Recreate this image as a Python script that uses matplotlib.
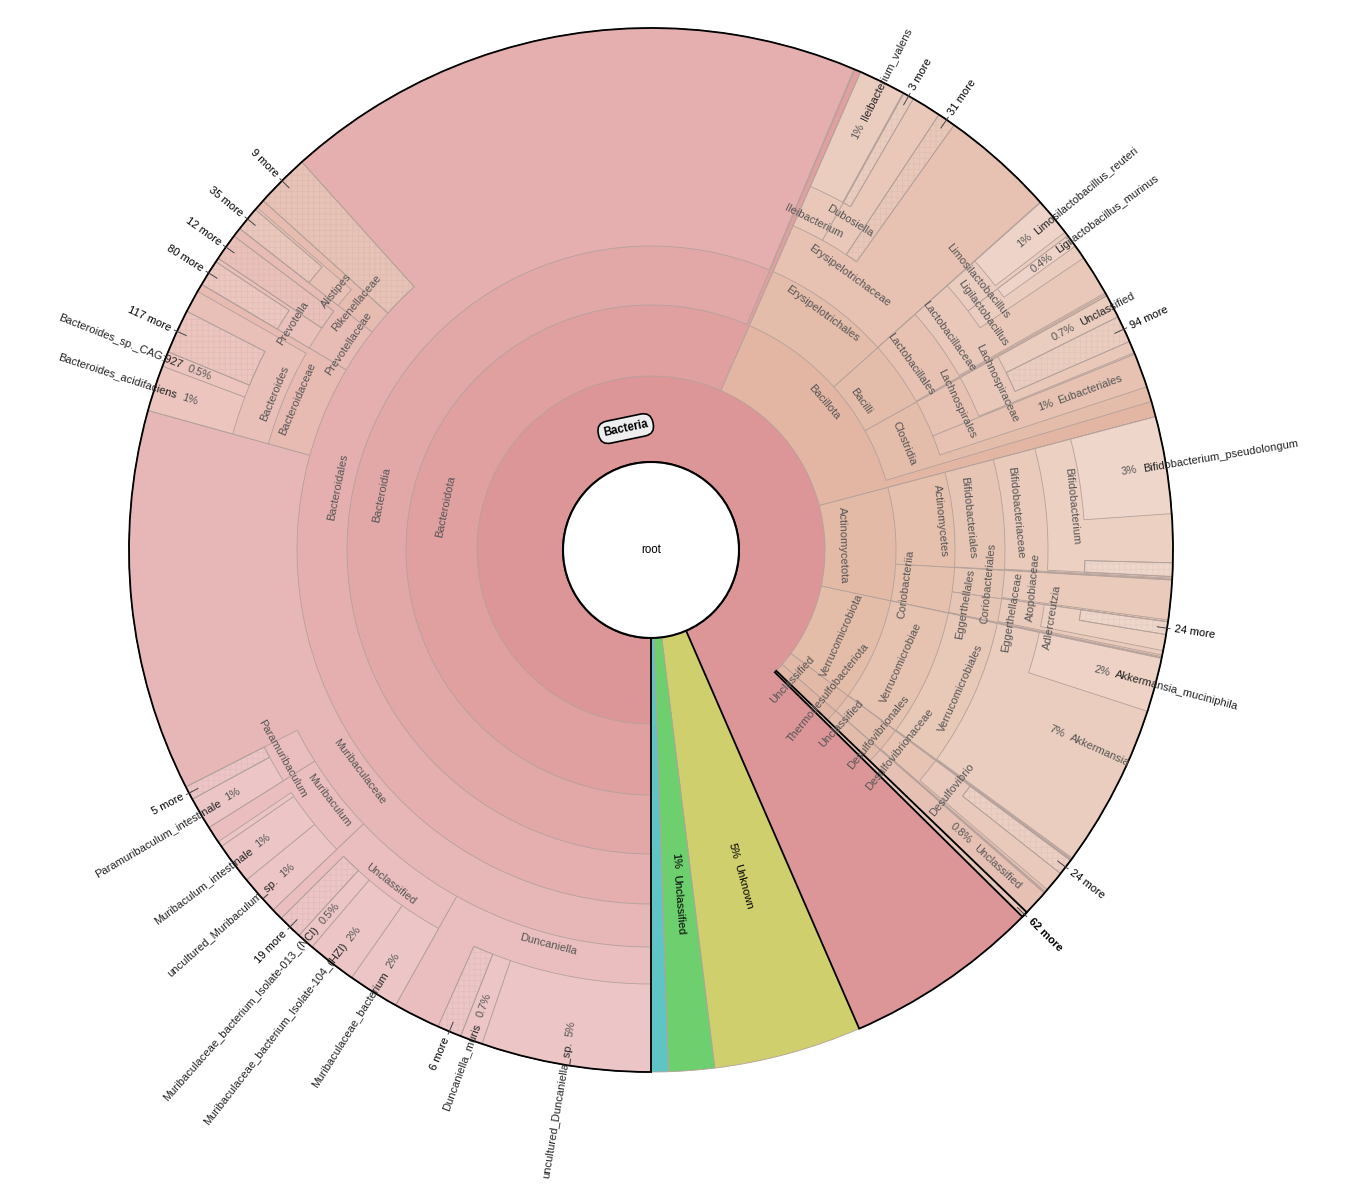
import matplotlib
matplotlib.use('Agg')
import matplotlib.pyplot as plt
from matplotlib.patches import Wedge, Circle
import numpy as np

plt.rcParams['font.family'] = ['Liberation Sans', 'DejaVu Sans']
plt.rcParams['hatch.linewidth'] = 0.5

# Krona-style taxonomy; values are % of all reads, laid out clockwise from 6 o'clock
ids = ['bac', 'unk', 'unc', 'cyn',
       'bdota', 'bill', 'acto', 'verr', 'thermo', 'uncp', 'more62',
       'bdia', 'erys', 'bacilli', 'clos', 'actm', 'corb', 'verrc', 'desv', 'uncc',
       'bdales', 'erysf', 'lacto', 'lachno', 'eubac', 'bifo', 'corbo', 'egg', 'verro', 'desvf', 'unco',
       'muri', 'bfam', 'prevf', 'rike', 'more9', 'ileib', 'dubo', 'more31', 'lactf', 'lachf',
       'biff', 'atop', 'eggf', 'akk', 'desvg',
       'dunc', 'uncg', 'murib', 'param', 'bcdes', 'prev', 'more12', 'alis', 'ivalens', 'more3',
       'limo', 'ligi', 'lachu', 'more94', 'bifg', 'adler', 'amuc', 'more24d',
       'udunc', 'dmuris', 'more6', 'mbact', 'm104', 'm013', 'more19', 'umuri', 'mint', 'msliver',
       'pint', 'more5', 'bacid', 'bcag', 'more117', 'more80', 'more35', 'lreut', 'lmur',
       'bpseudo', 'bgap', 'bmore', 'more24a']

parents = ['root', 'root', 'root', 'root',
           'bac', 'bac', 'bac', 'bac', 'bac', 'bac', 'bac',
           'bdota', 'bill', 'bill', 'bill', 'acto', 'acto', 'verr', 'thermo', 'uncp',
           'bdia', 'erys', 'bacilli', 'clos', 'clos', 'actm', 'corb', 'corb', 'verrc', 'desv', 'uncc',
           'bdales', 'bdales', 'bdales', 'bdales', 'bdales', 'erysf', 'erysf', 'erysf', 'lacto', 'lachno',
           'bifo', 'corbo', 'egg', 'verro', 'desvf',
           'muri', 'muri', 'muri', 'muri', 'bfam', 'prevf', 'prevf', 'rike', 'ileib', 'dubo',
           'lactf', 'lactf', 'lachf', 'lachf', 'biff', 'eggf', 'akk', 'desvg',
           'dunc', 'dunc', 'dunc', 'uncg', 'uncg', 'uncg', 'uncg', 'murib', 'murib', 'murib',
           'param', 'param', 'bcdes', 'bcdes', 'bcdes', 'prev', 'alis', 'limo', 'ligi',
           'bifg', 'bifg', 'bifg', 'adler']

names = ['Bacteria', 'Unknown', 'Unclassified', '',
         'Bacteroidota', 'Bacillota', 'Actinomycetota', 'Verrucomicrobiota',
         'Thermodesulfobacteriota', 'Unclassified', '62 more',
         'Bacteroidia', 'Erysipelotrichales', 'Bacilli', 'Clostridia', 'Actinomycetes',
         'Coriobacteriia', 'Verrucomicrobiae', 'Desulfovibrionales', 'Unclassified',
         'Bacteroidales', 'Erysipelotrichaceae', 'Lactobacillales', 'Lachnospirales', 'Eubacteriales',
         'Bifidobacteriales', 'Coriobacteriales', 'Eggerthellales', 'Verrucomicrobiales',
         'Desulfovibrionaceae', 'Unclassified',
         'Muribaculaceae', 'Bacteroidaceae', 'Prevotellaceae', 'Rikenellaceae', '9 more',
         'Ileibacterium', 'Dubosiella', '31 more', 'Lactobacillaceae', 'Lachnospiraceae',
         'Bifidobacteriaceae', 'Atopobiaceae', 'Eggerthellaceae', 'Akkermansia', 'Desulfovibrio',
         'Duncaniella', 'Unclassified', 'Muribaculum', 'Paramuribaculum', 'Bacteroides',
         'Prevotella', '12 more', 'Alistipes', 'Ileibacterium_valens', '3 more',
         'Limosilactobacillus', 'Ligilactobacillus', 'Unclassified', '94 more', 'Bifidobacterium',
         'Adlercreutzia', 'Akkermansia_muciniphila', '24 more',
         'uncultured_Duncaniella_sp.', 'Duncaniella_muris', '6 more', 'Muribaculaceae_bacterium',
         'Muribaculaceae_bacterium_Isolate-104_(HZI)', 'Muribaculaceae_bacterium_Isolate-013_(NCI)',
         '19 more', 'uncultured_Muribaculum_sp.', 'Muribaculum_intestinale', '',
         'Paramuribaculum_intestinale', '5 more', 'Bacteroides_acidifaciens', 'Bacteroides_sp._CAG:927',
         '117 more', '80 more', '35 more', 'Limosilactobacillus_reuteri', 'Ligilactobacillus_murinus',
         'Bifidobacterium_pseudolongum', '', '', '24 more']

values = [93.47, 4.58, 1.42, 0.53,
          56.58, 14.31, 7.44, 6.81, 1.28, 0.79, 0.19,
          56.39, 6.83, 3.50, 3.50, 5.03, 2.39, 6.78, 1.25, 0.78,
          56.36, 6.81, 3.44, 1.97, 1.06, 5.00, 1.28, 1.08, 6.75, 1.22, 0.77,
          29.31, 4.19, 2.06, 1.11, 1.67, 1.47, 1.25, 0.56, 3.39, 1.92,
          4.97, 1.22, 1.03, 6.72, 1.14,
          8.14, 4.75, 3.19, 1.42, 3.94, 0.94, 0.83, 0.83, 1.44, 0.33,
          1.31, 0.83, 0.72, 0.83, 4.92, 0.89, 1.67, 0.50,
          5.25, 0.69, 0.75, 1.58, 1.53, 0.53, 0.75, 1.22, 1.28, 0.17,
          1.00, 0.42, 1.42, 0.47, 1.36, 0.81, 0.75, 1.17, 0.39,
          3.00, 1.50, 0.42, 0.39]

collapsed = ['more62', 'more9', 'more31', 'more12', 'more3', 'more94', 'more24d', 'more6',
             'more19', 'more5', 'more117', 'more80', 'more35', 'bmore', 'more24a']
hidden = ['bgap']
leaf_labels = ['unk', 'unc', 'ivalens', 'lreut', 'lmur', 'lachu', 'eubac', 'bpseudo', 'amuc',
               'akk', 'unco', 'bacid', 'bcag', 'pint', 'mint', 'umuri', 'm013', 'm104', 'mbact',
               'dmuris', 'udunc']

# geometry (pixels)
W, H = 1355, 1191
CX, CY = 651, H - 550
RINGS = {1: 88, 2: 174, 3: 245, 4: 304, 5: 354, 6: 397, 7: 434}
R = 522
# Krona staggers neighbouring ring labels radially: (pattern, step in px) per depth
STAGGER = {2: ([0, 1, -1], 18), 3: ([0, 1, -1], 17), 4: ([-1, 1], 10), 5: ([-1, 1], 9), 6: ([-1, 1], 8)}

root_colors = {'bac': '#dc9698', 'unk': '#d0cf6e', 'unc': '#6dcf6d', 'cyn': '#5ec4c4'}
base_colors = {'bdota': (224, 160, 160), 'bill': (226, 182, 163), 'acto': (227, 186, 166),
               'verr': (228, 189, 169), 'thermo': (226, 184, 166), 'uncp': (225, 181, 164),
               'more62': (232, 200, 186),
               'bfam': (231, 186, 178), 'prevf': (231, 188, 180), 'rike': (230, 188, 176),
               'more9': (231, 194, 182)}

idx = {n: i for i, n in enumerate(ids)}
parent_of = dict(zip(ids, parents))
kids = {n: [] for n in ids}
kids['root'] = []
for n, p in zip(ids, parents):
    kids[p].append(n)

theta0, span, depth = {}, {}, {}


def place(p, a, d):
    for c in kids[p]:
        theta0[c] = a
        span[c] = values[idx[c]] * 3.6
        depth[c] = d
        place(c, a, d + 1)
        a += span[c]


place('root', 180.0, 1)


def node_color(n):
    if n in root_colors:
        return root_colors[n]
    a = n
    while a not in base_colors:
        a = parent_of[a]
    base = np.array(base_colors[a]) / 255.0
    f = min(0.08 * (depth[n] - depth[a]), 0.6)
    return tuple(base + (1 - base) * f)


def pol(r, th):
    t = np.radians(th)
    return CX + r * np.sin(t), CY + r * np.cos(t)


def pct_text(v):
    if v >= 1:
        return '%d%%' % int(v + 0.5)
    return '%.1g%%' % v


fig = plt.figure(figsize=(W / 100, H / 100), dpi=100)
ax = fig.add_axes([0, 0, 1, 1])
ax.set_xlim(0, W)
ax.set_ylim(0, H)
ax.set_aspect('equal')
ax.axis('off')

EDGE = '#b3a19b'


def draw(p):
    for c in kids[p]:
        if c not in hidden:
            t0, sp = theta0[c], span[c]
            r_in = RINGS[depth[c]]
            col = node_color(c)
            ax.add_patch(Wedge((CX, CY), R, 90 - (t0 + sp), 90 - t0, width=R - r_in,
                               facecolor=col, edgecolor=EDGE, linewidth=0.6))
            if c in collapsed:
                hc = tuple(np.array(matplotlib.colors.to_rgb(col)) * 0.955)
                ax.add_patch(Wedge((CX, CY), R, 90 - (t0 + sp), 90 - t0, width=R - r_in,
                                   facecolor='none', edgecolor=hc, linewidth=0, hatch='+++'))
                ax.add_patch(Wedge((CX, CY), R, 90 - (t0 + sp), 90 - t0, width=R - r_in,
                                   facecolor='none', edgecolor=EDGE, linewidth=0.6))
        draw(c)


draw('root')

# black outlines of the Bacteria wedge and the collapsed phyla
for n in ['bac', 'more62']:
    t0, sp = theta0[n], span[n]
    r_in = RINGS[depth[n]]
    ax.add_patch(Wedge((CX, CY), R, 90 - (t0 + sp), 90 - t0, width=R - r_in,
                       facecolor='none', edgecolor='black', linewidth=1.3, zorder=5))

ax.add_patch(Circle((CX, CY), RINGS[1], facecolor='white', edgecolor='black', linewidth=1.5, zorder=6))
ax.text(CX, CY, 'root', ha='center', va='center', fontsize=8.3, color='black', zorder=7)

FS = 8.0


def radial_rot(th):
    th = th % 360
    if th < 180:
        return 90 - th, 'left'
    return 270 - th, 'right'


# radial stagger for ring (tangential) labels, counted along each ring
ring_nodes = [n for n in ids if names[idx[n]] and depth[n] >= 2 and n not in collapsed
              and n not in leaf_labels and n not in hidden]
shift = {}
for d, (pattern, step) in STAGGER.items():
    row = sorted([n for n in ring_nodes if depth[n] == d], key=lambda n: theta0[n])
    for k, n in enumerate(row):
        shift[n] = pattern[k % len(pattern)] * step

for n in ids:
    if n in hidden or not names[idx[n]]:
        continue
    mid = theta0[n] + span[n] / 2
    d = depth[n]
    r_in = RINGS[d]
    label = names[idx[n]]
    if n == 'bac':
        x, y = pol(124, mid)
        ax.text(x, y, label, ha='center', va='center', rotation=-mid % 360 - 360,
                fontsize=8.3, fontweight='bold', zorder=7,
                bbox=dict(boxstyle='round,pad=0.45,rounding_size=0.9', fc='#eeeeee', ec='black', lw=1.2))
    elif n in collapsed:
        rot, ha = radial_rot(mid)
        x1, y1 = pol(R - 10, mid)
        x2, y2 = pol(R + 3, mid)
        ax.plot([x1, x2], [y1, y2], color='#444444', lw=0.7, zorder=6)
        x, y = pol(R + 7, mid)
        ax.text(x, y, label, ha=ha, va='center', rotation=rot, rotation_mode='anchor',
                fontsize=FS, color='black', fontweight='bold' if n == 'more62' else 'normal', zorder=7)
    elif n in leaf_labels:
        rot, ha = radial_rot(mid)
        ptxt = pct_text(values[idx[n]])
        r_p = (r_in + R) / 2 + 7
        r_n = r_p + 2.9 * len(ptxt) + 8
        dark = d == 1 or r_n + 5.4 * len(label) > R
        pc = 'black' if d == 1 else '#555555'
        nc = 'black' if d == 1 else ('#222222' if dark else '#555555')
        x, y = pol(r_p, mid)
        ax.text(x, y, ptxt, ha='center', va='center', rotation=rot, rotation_mode='anchor',
                fontsize=FS, color=pc, zorder=7)
        x, y = pol(r_n, mid)
        ax.text(x, y, label, ha=ha, va='center', rotation=rot, rotation_mode='anchor',
                fontsize=FS, color=nc, zorder=7)
    elif d >= 2:
        r_out = RINGS.get(d + 1, R)
        x, y = pol((r_in + r_out) / 2 + shift.get(n, 0), mid)
        rot = (-mid) % 360
        if 90 < rot < 270:
            rot -= 180
        ax.text(x, y, label, ha='center', va='center', rotation=rot, rotation_mode='anchor',
                fontsize=FS, color='#555555', zorder=7)

fig.savefig('out.png', dpi=100)
